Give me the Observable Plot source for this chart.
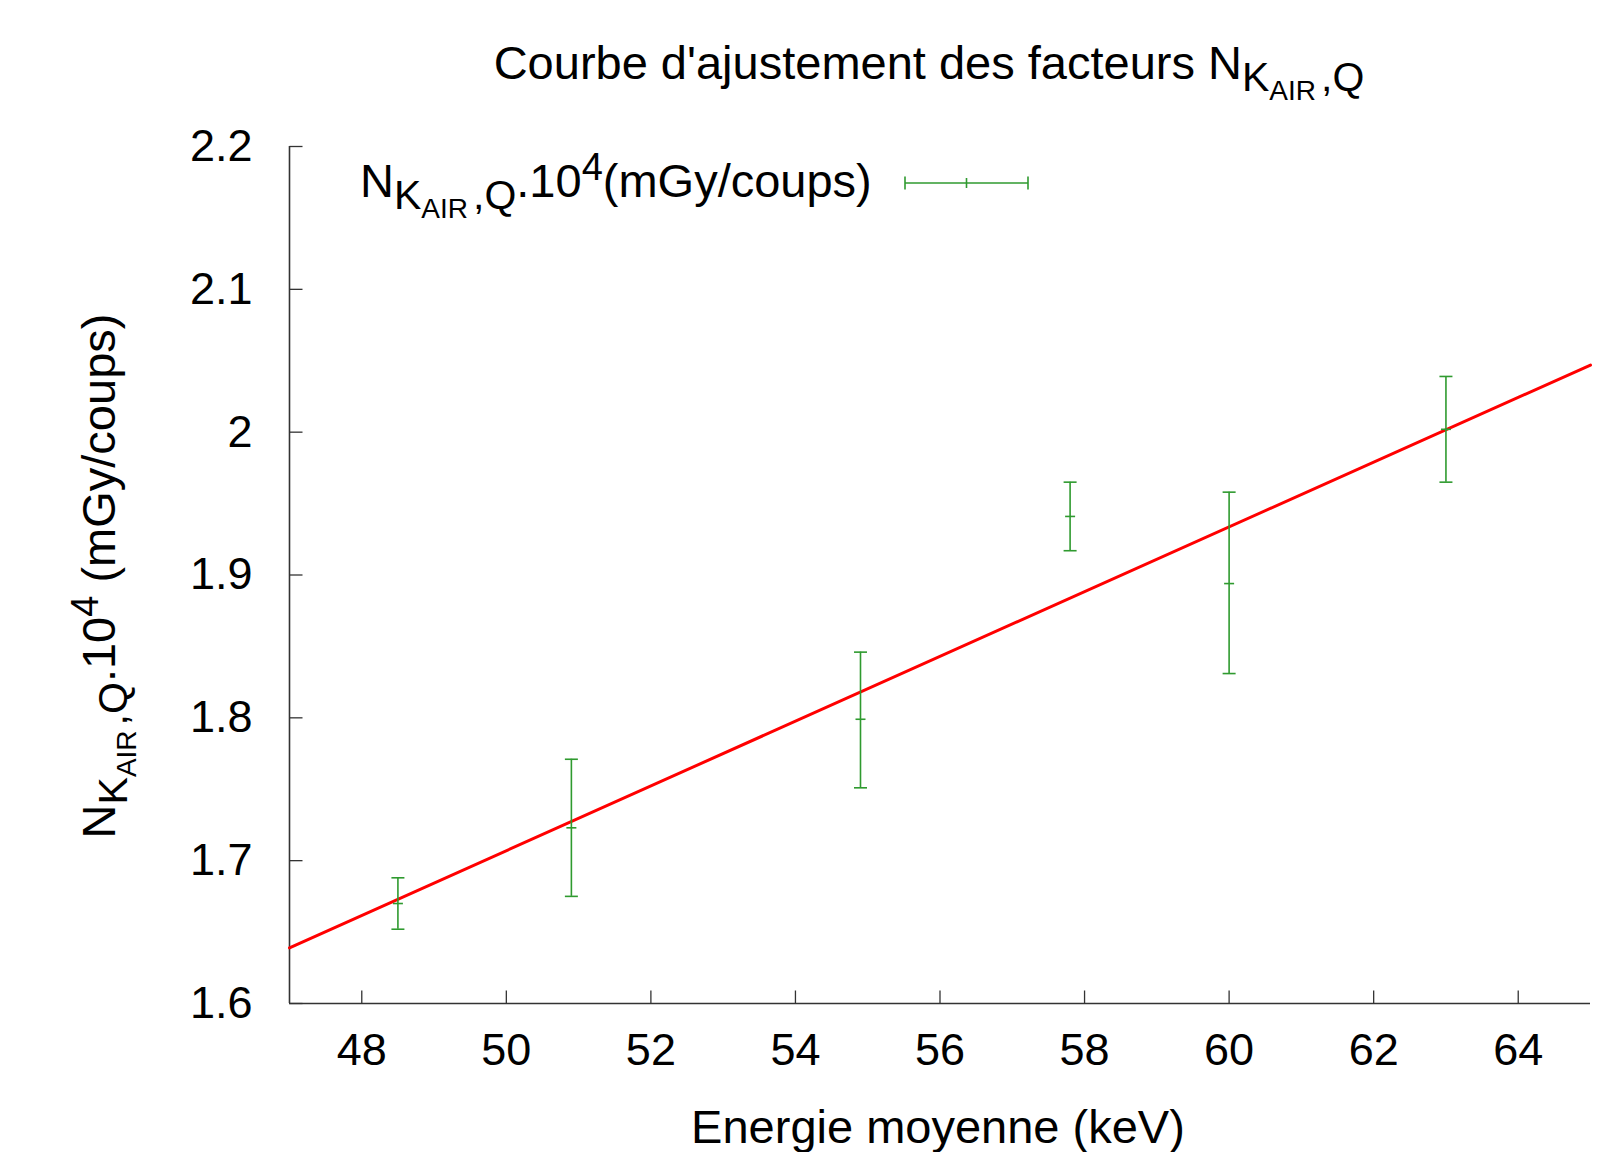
<!DOCTYPE html>
<html>
<head>
<meta charset="utf-8">
<script src="https://cdn.jsdelivr.net/npm/d3@7"></script>
<script src="https://cdn.jsdelivr.net/npm/@observablehq/plot@0.6"></script>
<style>
  html, body { margin: 0; padding: 0; background: #fff; }
  #wrap { position: relative; width: 1614px; height: 1152px; overflow: hidden; }
  #wrap svg { position: absolute; left: 0; top: 0; }
</style>
</head>
<body>
<div id="wrap"></div>
<script>
// ---- data ----
const energies = [48.5, 50.9, 54.9, 57.8, 60.0, 63.0];
const values   = [1.670, 1.723, 1.799, 1.941, 1.894, 2.002];
const lows     = [1.652, 1.675, 1.751, 1.917, 1.831, 1.965];
const highs    = [1.688, 1.771, 1.846, 1.965, 1.958, 2.039];
const fitX = [47, 65];
const fitY = [1.639, 2.047];
const xTicks = [48, 50, 52, 54, 56, 58, 60, 62, 64];
const yTicks = [1.6, 1.7, 1.8, 1.9, 2.0, 2.1, 2.2];

const points = energies.map((e, i) => ({x: e, y: values[i], lo: lows[i], hi: highs[i]}));
const fit = fitX.map((x, i) => ({x, y: fitY[i]}));

const FONT = "'Liberation Sans', Arial, sans-serif";
const GREEN = "#2f9a2f";
const AXIS = "#333";

const hLine = (w) => ({draw(ctx) { ctx.moveTo(-w / 2, 0); ctx.lineTo(w / 2, 0); }});
const vLine = (h) => ({draw(ctx) { ctx.moveTo(0, -h / 2); ctx.lineTo(0, h / 2); }});

const chart = Plot.plot({
  width: 1614,
  height: 1152,
  marginLeft: 289,
  marginRight: 24,
  marginTop: 146,
  marginBottom: 149,
  style: {fontFamily: FONT, fontSize: "45px", color: "#000", background: "transparent"},
  x: {domain: [47, 65], ticks: xTicks},
  y: {domain: [1.6, 2.2], ticks: yTicks},
  marks: [
    Plot.axisX({ticks: xTicks, tickSize: 0, tickPadding: 30, fontSize: 45, label: null, tickFormat: d => String(d)}),
    Plot.axisY({ticks: yTicks, tickSize: 0, tickPadding: 37, fontSize: 45, label: null, tickFormat: d => String(+d.toFixed(1))}),
    // inward ticks
    Plot.dot(yTicks, {x: () => 47, y: d => d, symbol: hLine(13), dx: 6.5, fill: "none", stroke: AXIS, strokeWidth: 1.3}),
    Plot.dot(xTicks, {x: d => d, y: () => 1.6, symbol: vLine(13), dy: -6.5, fill: "none", stroke: AXIS, strokeWidth: 1.3}),
    Plot.ruleX([47], {stroke: AXIS, strokeWidth: 1.6}),
    Plot.ruleY([1.6], {stroke: AXIS, strokeWidth: 1.6}),
    // fit line
    Plot.line(fit, {x: "x", y: "y", stroke: "#ff0000", strokeWidth: 3}),
    // error bars
    Plot.ruleX(points, {x: "x", y1: "lo", y2: "hi", stroke: GREEN, strokeWidth: 1.6}),
    Plot.dot(points, {x: "x", y: "lo", symbol: hLine(13), fill: "none", stroke: GREEN, strokeWidth: 1.6}),
    Plot.dot(points, {x: "x", y: "hi", symbol: hLine(13), fill: "none", stroke: GREEN, strokeWidth: 1.6}),
    Plot.dot(points, {x: "x", y: "y", symbol: hLine(10), fill: "none", stroke: GREEN, strokeWidth: 1.6})
  ]
});
document.getElementById("wrap").appendChild(chart);

// ---- text overlay (title, axis labels, legend) ----
const ov = d3.select("#wrap").append("svg")
  .attr("width", 1614).attr("height", 1152)
  .style("font-family", FONT).style("pointer-events", "none");

const F = 47;
function nkair(t) {
  t.append("tspan").text("N");
  t.append("tspan").attr("font-size", 41).attr("dy", 12).text("K");
  t.append("tspan").attr("font-size", 28).attr("dy", 9).text("AIR");
  t.append("tspan").attr("font-size", 41).attr("dy", -9).attr("dx", 5).text(",Q");
}

// title
const title = ov.append("text").attr("x", 929).attr("y", 79).attr("text-anchor", "middle").attr("font-size", F);
title.append("tspan").text("Courbe d'ajustement des facteurs ");
nkair(title);

// x label
ov.append("text").attr("x", 938).attr("y", 1143).attr("text-anchor", "middle").attr("font-size", F)
  .text("Energie moyenne (keV)");

// y label
const yl = ov.append("text").attr("transform", "translate(115,576) rotate(-90)")
  .attr("text-anchor", "middle").attr("font-size", F);
nkair(yl);
yl.append("tspan").attr("font-size", F).attr("dy", -12).text(".10");
yl.append("tspan").attr("font-size", 38).attr("dy", -17).text("4");
yl.append("tspan").attr("font-size", F).attr("dy", 17).text(" (mGy/coups)");

// legend
const lg = ov.append("text").attr("x", 360).attr("y", 197).attr("font-size", F);
nkair(lg);
lg.append("tspan").attr("font-size", F).attr("dy", -12).text(".10");
lg.append("tspan").attr("font-size", 38).attr("dy", -17).text("4");
lg.append("tspan").attr("font-size", F).attr("dy", 17).text("(mGy/coups)");

const ly = 183, lx1 = 905, lx2 = 1028;
const lgS = ov.append("g").attr("stroke", GREEN).attr("stroke-width", 1.6);
lgS.append("line").attr("x1", lx1).attr("x2", lx2).attr("y1", ly).attr("y2", ly);
lgS.append("line").attr("x1", lx1).attr("x2", lx1).attr("y1", ly - 6.5).attr("y2", ly + 6.5);
lgS.append("line").attr("x1", lx2).attr("x2", lx2).attr("y1", ly - 6.5).attr("y2", ly + 6.5);
lgS.append("line").attr("x1", (lx1 + lx2) / 2).attr("x2", (lx1 + lx2) / 2).attr("y1", ly - 5).attr("y2", ly + 5);
</script>
</body>
</html>
